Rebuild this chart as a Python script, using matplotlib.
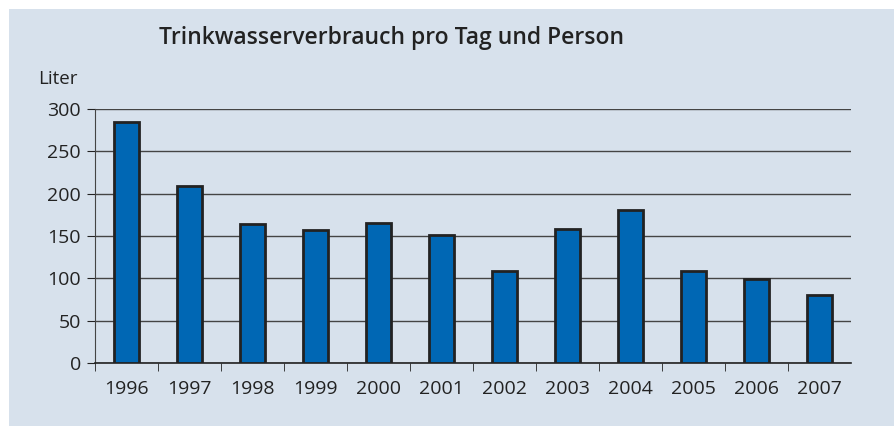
import matplotlib
matplotlib.use("Agg")
import matplotlib.pyplot as plt
from matplotlib.patches import Rectangle

jahre = ["1996", "1997", "1998", "1999", "2000", "2001", "2002", "2003", "2004", "2005", "2006", "2007"]
liter = [285, 209, 164, 157, 165, 151, 109, 158, 181, 109, 99, 80]

bg = "#d7e1ec"
plt.rcParams['font.family'] = ['Open Sans', 'DejaVu Sans']

fig = plt.figure(figsize=(8.95, 4.26), dpi=100, facecolor="white")
# Hintergrundfläche
fig.patches.append(Rectangle((9 / 895, 0), 1, 1 - 9 / 426, transform=fig.transFigure,
                             facecolor=bg, edgecolor="none", zorder=-10))

ax = fig.add_axes([95 / 895, 1 - 363 / 426, 756 / 895, 254 / 426])
ax.set_facecolor(bg)

x = range(len(jahre))
ax.bar(x, liter, width=0.4, color="#0067b4", edgecolor="#222222", linewidth=2, zorder=3)

ax.set_xlim(-0.5, len(jahre) - 0.5)
ax.set_ylim(0, 300)
ax.set_yticks([0, 50, 100, 150, 200, 250, 300])
ax.yaxis.grid(True, color="#444444", linewidth=1)
ax.set_axisbelow(True)

ax.set_xticks(list(x))
ax.set_xticklabels(jahre)
ax.set_xticks([i - 0.5 for i in range(len(jahre))], minor=True)
ax.tick_params(axis="x", which="major", length=0, pad=12, labelsize=14, colors="#222222")
ax.tick_params(axis="x", which="minor", length=6, direction="out", color="#222222")
ax.tick_params(axis="y", length=6, direction="out", labelsize=14, pad=4, colors="#222222")

for s in ["top", "right"]:
    ax.spines[s].set_visible(False)
ax.spines["left"].set_color("#444444")
ax.spines["bottom"].set_color("#222222")
ax.spines["bottom"].set_linewidth(1.2)

fig.text(392 / 895, 1 - 38 / 426, "Trinkwasserverbrauch pro Tag und Person",
         ha="center", va="center", fontsize=16.5, fontweight="semibold", color="#222222")
fig.text(58 / 895, 1 - 79 / 426, "Liter", ha="center", va="center", fontsize=13.5, color="#222222")

fig.savefig("out.png", dpi=100, facecolor="white")
